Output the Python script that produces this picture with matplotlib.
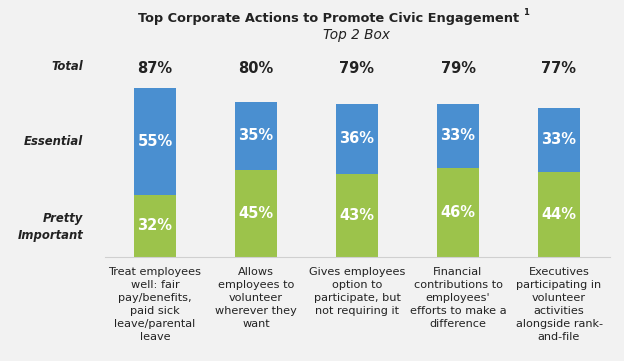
import matplotlib
matplotlib.use('Agg')
import matplotlib.pyplot as plt

categories = ['Treat employees\nwell: fair\npay/benefits,\npaid sick\nleave/parental\nleave',
              'Allows\nemployees to\nvolunteer\nwherever they\nwant',
              'Gives employees\noption to\nparticipate, but\nnot requiring it',
              'Financial\ncontributions to\nemployees\'\nefforts to make a\ndifference',
              'Executives\nparticipating in\nvolunteer\nactivities\nalongside rank-\nand-file']
important = [32, 45, 43, 46, 44]
essential = [55, 35, 36, 33, 33]
totals = [87, 80, 79, 79, 77]

blue = '#4a8fd0'
green = '#9cc34b'
bg = '#f2f2f2'
dark = '#222222'

plt.rcParams['font.family'] = ['DejaVu Sans']

fig = plt.figure(figsize=(6.24, 3.61), dpi=100, facecolor=bg)
ax = fig.add_axes([104.5 / 624, (361 - 257) / 361, 505 / 624, 194 / 361])
ax.set_facecolor(bg)

x = range(len(categories))
ax.bar(x, important, width=0.42, color=green)
ax.bar(x, essential, width=0.42, bottom=important, color=blue)

for i in x:
    ax.text(i, important[i] / 2, '%d%%' % important[i], ha='center', va='center',
            color='white', fontsize=10.5, fontweight='bold')
    ax.text(i, important[i] + essential[i] / 2, '%d%%' % essential[i], ha='center',
            va='center', color='white', fontsize=10.5, fontweight='bold')
    ax.text(i, 97, '%d%%' % totals[i], ha='center', va='center', color=dark,
            fontsize=10.5, fontweight='bold')

# row labels on the left
for lab, yy in [('Total', 98), ('Essential', 59.3), ('Pretty\nImportant', 15.5)]:
    ax.text(-0.71, yy, lab, ha='right', va='center', color=dark, fontsize=8.4,
            fontstyle='italic', fontweight='bold', clip_on=False, linespacing=1.35)

ax.set_xlim(-0.5, 4.5)
ax.set_ylim(0, 100)
ax.set_xticks(list(x))
ax.set_xticklabels(categories, fontsize=8.1, color=dark, linespacing=1.38)
ax.tick_params(axis='x', length=0, pad=7)
ax.set_yticks([])
for s in ['top', 'right', 'left']:
    ax.spines[s].set_visible(False)
ax.spines['bottom'].set_color('#d0d0d0')

fig.text(0.527, 0.95, 'Top Corporate Actions to Promote Civic Engagement', ha='center',
         va='center', fontsize=9.3, fontweight='bold', color=dark)
fig.text(0.838, 0.965, '1', ha='left', va='center', fontsize=6, fontweight='bold', color=dark)
fig.text(0.572, 0.903, 'Top 2 Box', ha='center', va='center', fontsize=9.8,
         fontstyle='italic', color=dark)

fig.savefig('out.png', dpi=100, facecolor=bg)
